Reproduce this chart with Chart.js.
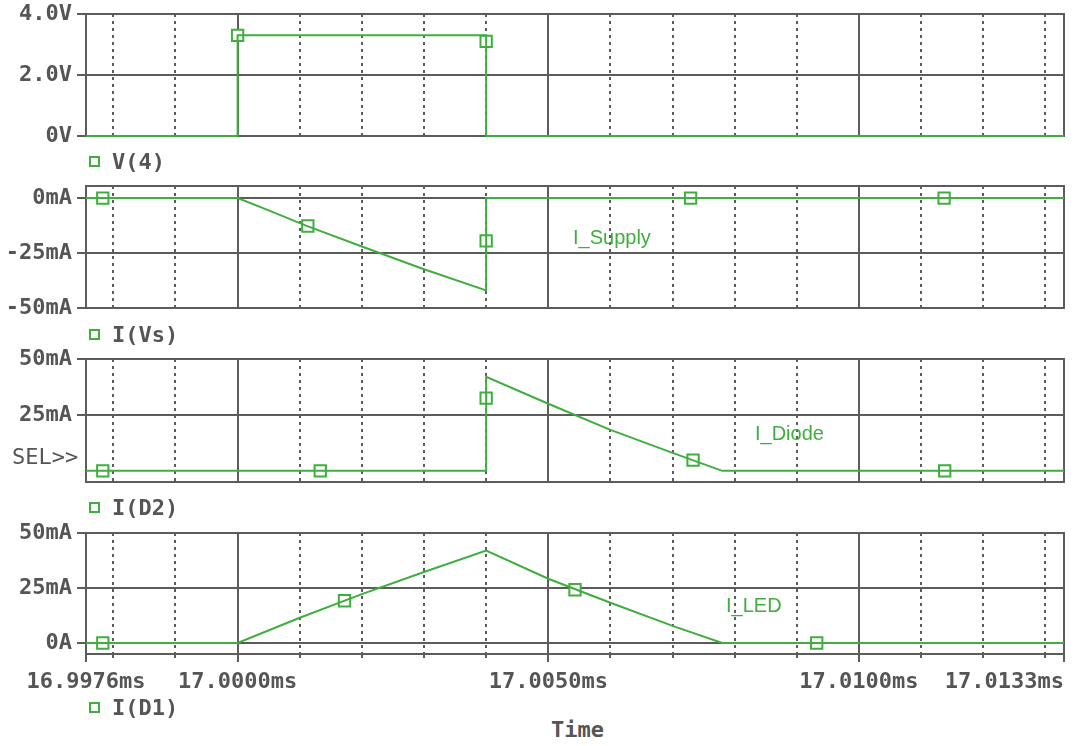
<!DOCTYPE html>
<html>
<head>
<meta charset="utf-8">
<script src="https://cdn.jsdelivr.net/npm/chart.js@4.4.1/dist/chart.umd.min.js"></script>
<style>
  html, body { margin: 0; padding: 0; background: #fff; }
  body { width: 1074px; height: 746px; overflow: hidden; position: relative; }
  canvas { position: absolute; left: 0; }
  .t { position: absolute; white-space: nowrap; line-height: 1; transform: translateY(-50%); z-index: 2; }
  .mono { font-family: "DejaVu Sans Mono", monospace; font-weight: bold; font-size: 22px; color: #555; }
  .sq { display: inline-block; width: 7px; height: 7px; border: 2px solid #3fae3f; background: #fff;
        margin-right: 12px; vertical-align: 2px; }
  .ann { font-family: "Liberation Sans", Arial, sans-serif; font-size: 20px; color: #3fae3f; }
</style>
</head>
<body>
<canvas id="p1" width="1074" height="162" style="top:-6px"></canvas>
<canvas id="p2" width="1074" height="162" style="top:166px"></canvas>
<canvas id="p3" width="1074" height="163" style="top:339px"></canvas>
<canvas id="p4" width="1074" height="201" style="top:513px"></canvas>

<div class="t mono" style="left:89px; top:162px"><span class="sq"></span>V(4)</div>
<div class="t mono" style="left:89px; top:335px"><span class="sq"></span>I(Vs)</div>
<div class="t mono" style="left:89px; top:508px"><span class="sq"></span>I(D2)</div>
<div class="t mono" style="left:89px; top:708px"><span class="sq"></span>I(D1)</div>
<div class="t mono" style="left:12px; top:457px; font-weight:normal">SEL&gt;&gt;</div>
<div class="t mono" style="left:551px; top:730px">Time</div>
<div class="t ann" style="left:573px; top:237px">I_Supply</div>
<div class="t ann" style="left:755px; top:433px">I_Diode</div>
<div class="t ann" style="left:726px; top:605px">I_LED</div>

<script>
// Time axis (ms)
const X_MIN = 16.99756;
const X_MAX = 17.0133;
const xLabelTimes = [X_MIN, 17.0000, 17.0050, 17.0100, X_MAX];

// V(4) : gate drive pulse (V)
const v4Time  = [X_MIN, 17.0000, 17.0000, 17.0040, 17.0040, X_MAX];
const v4Volts = [0, 0, 3.3, 3.3, 0, 0];
const v4MarkTime  = [17.0000, 17.0040];
const v4MarkVolts = [3.3, 3.1];
const v4Ticks = [0, 2, 4];
const v4TickLabels = ['0V', '2.0V', '4.0V'];

// I(Vs) : supply current (mA)
const ivsTime = [X_MIN, 17.0000, 17.0005, 17.0011, 17.0020, 17.0030, 17.0040, 17.0040, X_MAX];
const ivsMilliamps = [0, 0, -5.6, -12.5, -22.0, -32.4, -42.0, 0, 0];
const ivsMarkTime = [16.99783, 17.00113, 17.0040, 17.00729, 17.01137];
const ivsMarkMilliamps = [0, -12.7, -19.5, 0, 0];
const ivsTicks = [-50, -25, 0];
const ivsTickLabels = ['-50mA', '-25mA', '0mA'];

// I(D2) : freewheel diode current (mA)
const id2Time = [X_MIN, 17.0040, 17.0040, 17.0050, 17.0060, 17.0070, 17.0078, X_MAX];
const id2Milliamps = [0, 0, 42.0, 30.0, 18.3, 8.0, 0, 0];
const id2MarkTime = [16.99783, 17.00133, 17.0040, 17.00733, 17.01138];
const id2MarkMilliamps = [0, 0, 32.5, 4.8, 0];
const id2Ticks = [25, 50];
const id2TickLabels = ['25mA', '50mA'];

// I(D1) : LED current (mA)
const id1Time = [X_MIN, 17.0000, 17.0010, 17.0020, 17.0030, 17.0040, 17.0050, 17.0060, 17.0070, 17.0078, X_MAX];
const id1Milliamps = [0, 0, 11.5, 22.2, 32.3, 42.0, 29.2, 18.3, 7.8, 0, 0];
const id1MarkTime = [16.99783, 17.00172, 17.00543, 17.00932];
const id1MarkMilliamps = [0, 19.2, 24.2, 0];
const id1Ticks = [0, 25, 50];
const id1TickLabels = ['0A', '25mA', '50mA'];

const GREEN = '#3fae3f';
const GRID = '#5c5c5c';
const TEXT = '#555555';
const MONO = { family: '"DejaVu Sans Mono", monospace', size: 22, weight: 'bold' };

// vertical grid every microsecond, solid every 5 us
const gridTimes = [X_MIN];
for (let k = 16998; k <= 17013; k++) gridTimes.push(k / 1000);
gridTimes.push(X_MAX);

function isMajor(v) {
  if (v === X_MIN || v === X_MAX) return true;
  const us = Math.round(v * 1000);
  return us % 5 === 0;
}

function zip(xs, ys) { return xs.map((x, i) => ({ x: x, y: ys[i] })); }

const framePlugin = {
  id: 'frame',
  beforeDatasetsDraw(chart) {
    const a = chart.chartArea, c = chart.ctx;
    c.save();
    c.strokeStyle = GRID;
    c.lineWidth = 2;
    c.strokeRect(a.left, a.top, a.right - a.left, a.bottom - a.top);
    c.restore();
  }
};

const timeLabelPlugin = {
  id: 'timeLabels',
  afterDraw(chart) {
    const s = chart.scales.x, c = chart.ctx;
    c.save();
    c.font = 'bold 22px "DejaVu Sans Mono", monospace';
    c.fillStyle = TEXT;
    c.textBaseline = 'middle';
    xLabelTimes.forEach(v => {
      const px = s.getPixelForValue(v);
      const text = v.toFixed(4) + 'ms';
      const w = c.measureText(text).width;
      c.textAlign = (px + w / 2 > chart.width) ? 'right' : 'center';
      c.fillText(text, px, chart.chartArea.bottom + 28);
    });
    c.restore();
  }
};

function makePanel(id, p) {
  const plugins = [framePlugin];
  if (p.timeAxis) plugins.push(timeLabelPlugin);
  return new Chart(document.getElementById(id), {
    type: 'line',
    data: {
      datasets: [
        { data: zip(p.t, p.y), borderColor: GREEN, borderWidth: 2, pointRadius: 0,
          tension: 0, fill: false, clip: 4 },
        { data: zip(p.mt, p.my), showLine: false, pointStyle: 'rect', pointRadius: 8,
          pointBorderWidth: 2, pointBorderColor: GREEN, pointBackgroundColor: '#fff',
          borderColor: GREEN, backgroundColor: '#fff', clip: 10 }
      ]
    },
    options: {
      responsive: false,
      animation: false,
      devicePixelRatio: 1,
      events: [],
      layout: { padding: { top: 20, right: 9, bottom: 20, left: 0 } },
      plugins: { legend: { display: false }, tooltip: { enabled: false } },
      scales: {
        x: {
          type: 'linear', min: X_MIN, max: X_MAX,
          afterBuildTicks: s => { s.ticks = gridTimes.map(v => ({ value: v })); },
          afterFit: s => { s.height = p.timeAxis ? 40 : 0; },
          ticks: { display: false, autoSkip: false },
          grid: {
            color: GRID,
            lineWidth: 2,
            drawTicks: !!p.timeAxis,
            tickLength: 8,
            tickColor: GRID,
            tickWidth: 2,
            tickBorderDash: ctx => (ctx.tick && !isMajor(ctx.tick.value)) ? [3, 40] : []
          },
          border: {
            display: true, color: GRID, width: 2,
            dash: ctx => (ctx.tick && !isMajor(ctx.tick.value)) ? [3, 4] : []
          }
        },
        y: {
          min: p.min, max: p.max,
          afterBuildTicks: s => { s.ticks = p.ticks.map(v => ({ value: v })); },
          afterFit: s => { s.width = 86; },
          ticks: {
            autoSkip: false, padding: 5, color: TEXT, font: MONO,
            callback: (v, i) => p.labels[i]
          },
          grid: { color: GRID, lineWidth: 2, tickLength: 9, drawTicks: true, tickColor: GRID },
          border: { display: true, color: GRID, width: 2 }
        }
      }
    },
    plugins: plugins
  });
}

makePanel('p1', { t: v4Time, y: v4Volts, mt: v4MarkTime, my: v4MarkVolts,
  min: 0, max: 4, ticks: v4Ticks, labels: v4TickLabels });
makePanel('p2', { t: ivsTime, y: ivsMilliamps, mt: ivsMarkTime, my: ivsMarkMilliamps,
  min: -50, max: 5.5, ticks: ivsTicks, labels: ivsTickLabels });
makePanel('p3', { t: id2Time, y: id2Milliamps, mt: id2MarkTime, my: id2MarkMilliamps,
  min: -5, max: 50, ticks: id2Ticks, labels: id2TickLabels });
makePanel('p4', { t: id1Time, y: id1Milliamps, mt: id1MarkTime, my: id1MarkMilliamps,
  min: -5, max: 50, ticks: id1Ticks, labels: id1TickLabels, timeAxis: true });
</script>
</body>
</html>
